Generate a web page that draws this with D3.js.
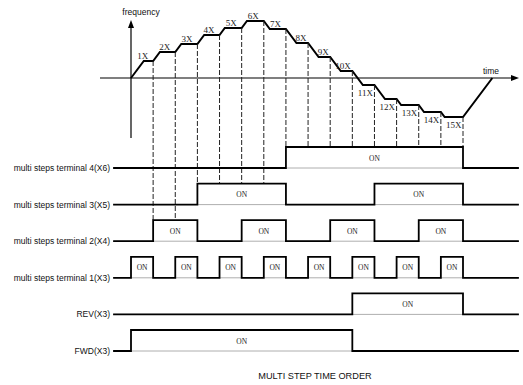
<!DOCTYPE html>
<html><head><meta charset="utf-8">
<script src="https://cdn.jsdelivr.net/npm/d3@7"></script>
<style>
html,body{margin:0;padding:0;background:#fff;}
svg{display:block;}
.sans{font-family:"Liberation Sans",Arial,sans-serif;fill:#111;}
.serif{font-family:"Liberation Serif","Times New Roman",serif;fill:#222;}
</style></head>
<body>
<script>
// ---------- data ----------
const stepLabels = ["1X","2X","3X","4X","5X","6X","7X","8X","9X","10X","11X","12X","13X","14X","15X"];
const stepFreq = [17,26,34,43,50,57,49,35,21,7,-7,-21,-27,-34,-39];
const signalNames = ["multi steps terminal 4(X6)","multi steps terminal 3(X5)","multi steps terminal 2(X4)","multi steps terminal 1(X3)","REV(X3)","FWD(X3)"];
const x6On = [[7,15]];
const x5On = [[3,7],[11,15]];
const x4On = [[1,3],[5,7],[9,11],[13,15]];
const x3On = [[0,1],[2,3],[4,5],[6,7],[8,9],[10,11],[12,13],[14,15]];
const revOn = [[10,15]];
const fwdOn = [[0,10]];
const signalOn = [x6On,x5On,x4On,x3On,revOn,fwdOn];
const onText = "ON";
const title = "MULTI STEP TIME ORDER";
const freqLabel = "frequency";
const timeLabel = "time";
const accelRate = 0.034; // time units per frequency unit (constant accel/decel slope)

// ---------- layout ----------
const W = 523, H = 385;
const svg = d3.select("body").append("svg").attr("width",W).attr("height",H);

const x = d3.scaleLinear().domain([0,15]).range([131,463]);
const y = d3.scaleLinear().domain([-40,60]).range([118,18]);
const sigY = d3.scalePoint().domain(signalNames).range([168,351]);
const pulseH = 21;
const lineX0 = 114, lineX1 = 518;

// time axis
svg.append("line").attr("x1",100).attr("x2",512).attr("y1",y(0)).attr("y2",y(0))
  .attr("stroke","#000").attr("stroke-width",1.2);
svg.append("path").attr("d",`M${519},${y(0)} L${511},${y(0)-3} L${511},${y(0)+3}Z`).attr("fill","#000");
// frequency axis
svg.append("line").attr("x1",x(0)).attr("x2",x(0)).attr("y1",138).attr("y2",26)
  .attr("stroke","#000").attr("stroke-width",1.2);
svg.append("path").attr("d",`M${x(0)},20 L${x(0)-3},28 L${x(0)+3},28Z`).attr("fill","#000");
svg.append("text").attr("class","sans").attr("x",141).attr("y",15).attr("text-anchor","middle")
  .attr("font-size",8.5).text(freqLabel);
svg.append("text").attr("class","sans").attr("x",491).attr("y",74).attr("text-anchor","middle")
  .attr("font-size",8.5).text(timeLabel);

// frequency curve
const pts = [[0,0]];
stepFreq.forEach((f,i)=>{
  const p = i===0 ? 0 : stepFreq[i-1];
  pts.push([i + Math.abs(f-p)*accelRate, f]);
  pts.push([i+1, f]);
});
const last = stepFreq[stepFreq.length-1];
pts.push([15 + Math.abs(last)*accelRate, 0]);
svg.append("path").attr("d", d3.line().x(d=>x(d[0])).y(d=>y(d[1]))(pts))
  .attr("fill","none").attr("stroke","#000").attr("stroke-width",2).attr("stroke-linejoin","miter");

// step labels
stepLabels.forEach((lab,i)=>{
  const k=i+1, f=stepFreq[i];
  const off = k<=7 ? 5 : 1.5;
  svg.append("text").attr("class","serif").attr("font-size",9)
    .attr("x", x(k)-off).attr("y", f>=0 ? y(f)-2 : y(f)+10.5)
    .attr("text-anchor","end").text(lab);
});

// dashed guide lines
const terminalCount = 4;
stepLabels.forEach((lab,i)=>{
  const k=i+1;
  const mid = Math.min(k+1,15) - 0.5;
  let target = null;
  for(let s=0;s<terminalCount;s++){
    if(signalOn[s].some(([a,b])=>mid>a && mid<b)){ target=s; break; }
  }
  const yEnd = sigY(signalNames[target]) - pulseH;
  svg.append("line").attr("x1",x(k)).attr("x2",x(k)).attr("y1",y(stepFreq[i])).attr("y2",yEnd)
    .attr("stroke","#222").attr("stroke-width",1).attr("stroke-dasharray","5,2");
});

// signals
signalNames.forEach((name,s)=>{
  const yl = sigY(name), yh = yl - pulseH;
  svg.append("text").attr("class","sans").attr("font-size",8.5).attr("text-anchor","end")
    .attr("x",110).attr("y",yl+3).text(name);
  // thin baseline under pulses
  svg.append("line").attr("x1",lineX0).attr("x2",lineX1).attr("y1",yl).attr("y2",yl)
    .attr("stroke","#999").attr("stroke-width",0.8);
  let d = "";
  let cur = lineX0;
  signalOn[s].forEach(([a,b])=>{
    d += `M${cur},${yl}L${x(a)},${yl}L${x(a)},${yh}L${x(b)},${yh}L${x(b)},${yl}`;
    cur = x(b);
  });
  d += `M${cur},${yl}L${lineX1},${yl}`;
  svg.append("path").attr("d",d).attr("fill","none").attr("stroke","#000")
    .attr("stroke-width",1.8).attr("stroke-linejoin","miter").attr("stroke-linecap","square");
  signalOn[s].forEach(([a,b])=>{
    svg.append("text").attr("class","serif").attr("font-size",7.5).attr("text-anchor","middle")
      .attr("x",(x(a)+x(b))/2).attr("y",(yl+yh)/2+3).text(onText);
  });
});

// title
svg.append("text").attr("class","sans").attr("font-size",9.2).attr("text-anchor","middle")
  .attr("x",315).attr("y",379).text(title);
</script>
</body></html>
